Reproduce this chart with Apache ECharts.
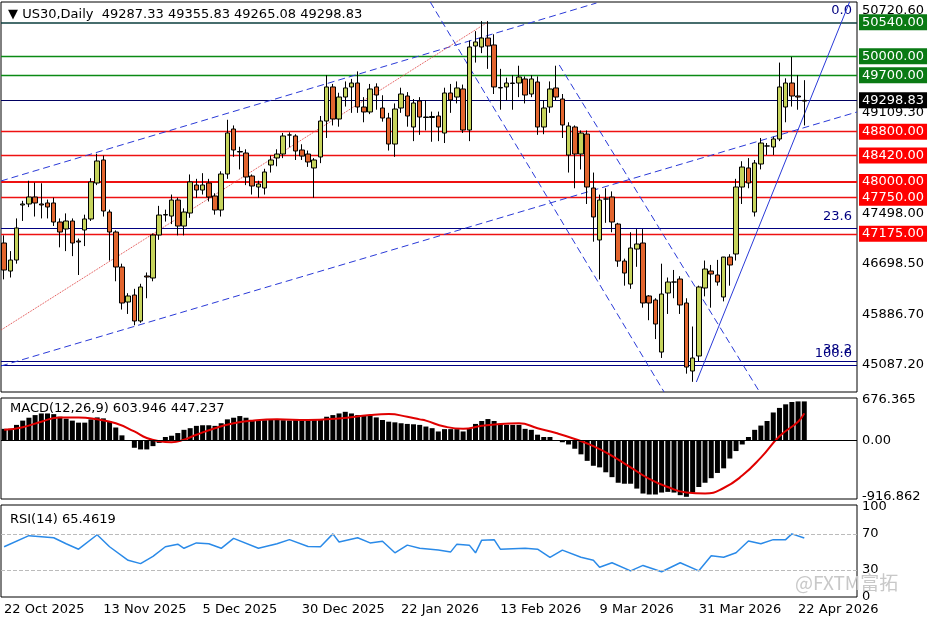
<!DOCTYPE html>
<html><head><meta charset="utf-8">
<script src="https://cdn.jsdelivr.net/npm/echarts@6/dist/echarts.min.js"></script>
<style>html,body{margin:0;padding:0;background:#fff}#c{width:936px;height:624px}</style>
</head><body><div id="c"></div>
<script>
const opens=[47029,46583,46758,47634,47650,47761,47650,47666,47666,47363,47252,47379,47061,47236,47411,47984,48350,47522,47204,46647,46090,46201,45788,46504,46472,47156,47474,47458,47713,47299,47506,47952,47872,47984,47777,47554,48127,48843,48477,48461,48095,47920,47904,48270,48382,48445,48748,48732,48509,48445,48223,48398,48970,49512,49002,49352,49512,49575,49193,49114,49512,49177,49018,48604,49177,49368,48875,49289,49034,49026,49050,48779,49416,49352,49480,48827,50164,50148,50291,50180,49496,49512,49575,49575,49639,49400,49591,48875,49193,49496,49320,48429,48875,48445,48763,47904,47077,47729,47761,47331,46742,46376,46933,47029,46186,46122,45294,46233,46408,46456,46074,44992,45231,46313,46583,46520,46170,46806,46854,47920,48223,47522,48286,48573,48557,48684,49193,49575,49368,49287.33];
const closes=[46599,46758,47268,47650,47761,47666,47634,47602,47363,47204,47379,47029,47045,47411,48000,48334,47538,47204,46647,46074,46186,45788,46329,46488,47156,47474,47482,47713,47299,47522,48000,47872,47952,47761,47554,48127,48780,48509,48485,48079,47936,47968,48159,48350,48445,48732,48748,48493,48413,48318,48350,48970,49512,49002,49352,49496,49575,49193,49114,49480,49384,49018,48604,49161,49400,49050,49257,49034,49026,49042,48875,49416,49305,49496,48827,50148,50228,50291,50164,49512,49504,49575,49567,49671,49384,49639,48875,49177,49480,49352,48907,48891,48445,48779,47920,47443,47713,47729,47363,46742,46551,46949,47013,46074,46074,45740,46217,46408,46408,46043,45055,45199,46329,46615,46535,46408,46806,46679,47920,48238,47984,48302,48620,48573,48684,49512,49575,49368,49352,49298.83];
const lows=[46450,46480,46700,47380,47600,47450,47420,47420,47300,46960,46900,46820,46520,46980,47380,47950,47450,46750,46420,45970,45900,45720,45760,46150,46420,47080,47370,47330,47150,47150,47430,47750,47800,47690,47480,47450,48050,48400,48200,47950,47800,47750,47800,48150,48250,48380,48550,48350,48350,48240,47750,48300,48700,48900,48880,49200,49100,49100,48950,49080,49150,48960,48500,48400,49100,48880,48650,48750,48820,48640,48650,48620,49100,49250,48780,48650,49900,50050,49800,49400,49150,49300,49150,49350,49250,49350,48750,48760,49100,49300,48700,48150,47900,48200,47650,47050,46450,47350,47200,46650,46350,46300,46650,46000,45800,45500,45200,45900,46150,45900,44950,44820,45150,46180,46000,46350,46100,46350,46750,47650,47900,47450,48200,48430,48430,48650,48950,49200,49150,48900];
const highs=[47150,46900,47420,47700,48020,47990,47980,47720,47750,47420,47500,47420,47100,47480,48060,48450,48420,47560,47230,46700,46230,46300,46380,46560,47180,47620,47560,47800,47750,47580,48120,48050,48140,48050,47820,48170,48990,48900,48560,48520,48120,48020,48210,48420,48520,48780,48790,48760,48600,48500,48380,49050,49700,49560,49420,49600,49640,49760,49350,49560,49570,49380,49100,49250,49500,49430,49320,49350,49300,49120,49120,49500,49560,49600,49550,50250,50400,50560,50560,50350,49800,49660,49700,49850,49680,49700,49680,49300,49600,49850,49400,48950,48900,48820,48820,48150,47800,47900,47850,47350,46780,47200,47250,47250,46200,46150,46700,46480,46600,46500,46150,45700,46350,46750,46680,46760,46800,46850,48050,48330,48380,48350,48700,48620,48720,49900,49650,49990,49700,49620];
const macdHist=[193,193,258,328,376,419,446,446,435,392,360,328,295,295,349,381,365,311,215,86,5,-118,-145,-145,-91,-38,59,80,124,177,204,242,252,252,242,285,349,376,403,376,338,330,335,338,340,335,330,338,340,335,338,345,392,419,446,473,446,419,408,408,381,338,311,300,285,274,268,258,231,204,150,188,188,188,150,204,274,322,354,322,274,258,258,258,193,177,97,59,59,0,-27,-64,-134,-226,-333,-414,-440,-521,-601,-693,-709,-709,-789,-870,-886,-886,-854,-843,-854,-897,-924,-854,-763,-693,-618,-532,-456,-295,-172,-64,59,177,247,322,462,537,596,634,644,644];
// signal line read at selected bars: [bar number (1-based), value]
const macdSignalPts=[[1,177],[4,220],[7,311],[10,381],[13,381],[16,349],[19,285],[22,150],[24,43],[26,-11],[28,-27],[30,16],[32,97],[35,204],[38,285],[41,328],[45,349],[50,338],[55,365],[60,419],[63,435],[66,392],[68,349],[69,328],[72,231],[75,193],[78,242],[81,274],[84,285],[87,204],[90,124],[93,27],[96,-91],[99,-252],[102,-440],[105,-628],[108,-763],[111,-854],[114,-870],[117,-779],[120,-575],[123,-279],[126,70],[129,311],[130,447]];
const rsiPts=[[1,55.7],[5,68],[9,65.7],[11,59],[13,53],[16,69],[18,55.7],[21,40.7],[23,37],[25,45],[27,55.7],[29,58.6],[30,54],[32,60],[34,59],[36,54],[38,65],[42,54],[45,59],[47,63.6],[50,56],[52,55.7],[54,70],[55,61],[58,65.7],[60,60],[62,61.8],[64,49],[66,57.5],[68,54],[71,52],[73,50],[74,58.6],[76,57.5],[77,49],[78,63],[80,63.6],[81,53],[85,54],[87,53],[89,44],[91,52],[94,44],[96,40.7],[97,33],[99,38],[102,29],[104,35],[107,28],[110,38],[113,29],[115,45.7],[117,44],[119,49],[121,62],[123,59],[125,63.6],[127,63.6],[128,70],[130,65.46]];
const tickIdx=[0,16,32,48,64,80,96,112,128];
const tickLabels=['22 Oct 2025','13 Nov 2025','5 Dec 2025','30 Dec 2025','22 Jan 2026','13 Feb 2026','9 Mar 2026','31 Mar 2026','22 Apr 2026'];
const priceTicks=[50720.60,49109.30,47498.00,46698.50,45886.70,45087.20];
const greenLevels=[50000,49700];
const redLevels=[48800,48420,48000,47750,47175];
const topLevel=50540;
const lastPrice=49298.83;
// trend lines: [[barIndex0, price],[barIndex1, price]]
const trendChannelUp=[[-0.5,48016],[95.5,50848]];
const trendChannelLow=[[-0.5,45072],[137.5,49114]];
const trendRedDotted=[[-0.5,45644],[78,50546]];
const trendDownA=[[68.7,50864],[106.4,44658]];
const trendDownB=[[89.5,49862],[121.8,44658]];
const trendSolidUp=[[111.6,44817],[136.3,50864]];
const fib={'0.0':50720.6,'23.6':47258,'38.2':45150,'100.0':45087};

const NSLOT=138;
const PMIN=44658,PMAX=50864;
const cats=[];for(let i=0;i<NSLOT;i++)cats.push(String(i));
const ohlc=opens.map((o,i)=>[o,closes[i],lows[i],highs[i]]);
const sig=new Array(NSLOT).fill(null);macdSignalPts.forEach(([b,v])=>sig[b-1]=v);
const rsi=new Array(NSLOT).fill(null);rsiPts.forEach(([b,v])=>rsi[b-1]=v);
const FONT='DejaVu Sans';
const HID={color:'rgba(0,0,0,0)',width:0};
const boxLbl=(txt,bg,fg)=>({show:true,position:'end',formatter:txt,backgroundColor:bg,color:fg||'#fff',padding:[2,3,1,3],fontSize:13,fontFamily:FONT,distance:2});
const plainLbl=(txt)=>({show:true,position:'end',formatter:txt,color:'#000',fontSize:13,fontFamily:FONT,distance:5});
const ml=[];
priceTicks.forEach(v=>ml.push({yAxis:v,lineStyle:HID,label:plainLbl(v.toFixed(2))}));
ml.push({yAxis:topLevel,lineStyle:{color:'#0a3c3c',width:1.5,type:'solid'},label:boxLbl('50540.00','#0a7a14')});
greenLevels.forEach(v=>ml.push({yAxis:v,lineStyle:{color:'#0a8a14',width:1.3,type:'solid'},label:boxLbl(v.toFixed(2),'#0a7a14')}));
ml.push({yAxis:lastPrice,lineStyle:{color:'#000060',width:1,type:'solid'},label:boxLbl(lastPrice.toFixed(2),'#000')});
redLevels.forEach(v=>ml.push({yAxis:v,lineStyle:{color:'#ee1111',width:v===48000?2:1.3,type:'solid'},label:boxLbl(v.toFixed(2),'#f00')}));
ml.push({yAxis:fib['23.6'],lineStyle:{color:'#000080',width:1,type:'solid'},label:{show:true,position:'insideEndTop',formatter:'23.6',color:'#000080',fontSize:13,fontFamily:FONT}});
ml.push({yAxis:fib['100.0'],lineStyle:{color:'#000080',width:1,type:'solid'},label:{show:true,position:'insideEndTop',formatter:'100.0',color:'#000080',fontSize:13,fontFamily:FONT}});
ml.push({yAxis:fib['38.2'],lineStyle:{color:'#000080',width:1,type:'solid'},label:{show:true,position:'insideEndTop',formatter:'38.2',color:'#000080',fontSize:13,fontFamily:FONT}});
ml.push({yAxis:fib['0.0'],lineStyle:HID,label:{show:true,position:'insideEnd',formatter:'0.0',color:'#000080',fontSize:13,fontFamily:FONT}});

const tl=(d,color,type,w)=>({type:'line',xAxisIndex:3,yAxisIndex:3,data:d,symbol:'none',silent:true,clip:true,lineStyle:{color,type:type==='dashed'?[7,4]:type,width:w||1},z:3});
const chart=echarts.init(document.getElementById('c'));
chart.setOption({
  animation:false,backgroundColor:'#fff',
  textStyle:{fontFamily:FONT},
  title:[
    {text:'▼ US30,Daily  49287.33 49355.83 49265.08 49298.83',left:3,top:3,textStyle:{fontSize:13,fontWeight:'normal',color:'#000',fontFamily:FONT}},
    {text:'MACD(12,26,9) 603.946 447.237',left:5,top:397,textStyle:{fontSize:13,fontWeight:'normal',color:'#000',fontFamily:FONT}},
    {text:'RSI(14) 65.4619',left:5,top:508,textStyle:{fontSize:13,fontWeight:'normal',color:'#000',fontFamily:FONT}},
    {text:'@FXTM富拓',left:790,top:568,textStyle:{fontSize:19,fontWeight:'normal',color:'#c8c8c8',fontFamily:'Noto Sans CJK SC'}}
  ],
  grid:[
    {left:1,right:79,top:2,height:390,show:true,borderColor:'#000',borderWidth:1},
    {left:1,right:79,top:398,height:101,show:true,borderColor:'#000',borderWidth:1},
    {left:1,right:79,top:505,height:92,show:true,borderColor:'#000',borderWidth:1},
    {left:1,right:79,top:2,height:390,show:false}
  ],
  xAxis:[
    {type:'category',gridIndex:0,data:cats,boundaryGap:true,axisLine:{show:false},axisTick:{show:false},axisLabel:{show:false}},
    {type:'category',gridIndex:1,data:cats,boundaryGap:true,axisLine:{show:false},axisTick:{show:false},axisLabel:{show:false}},
    {type:'category',gridIndex:2,data:cats,boundaryGap:true,axisLine:{show:false},
      axisTick:{show:false},
      axisLabel:{show:true,interval:0,align:'left',margin:6,fontSize:13,color:'#000',fontFamily:FONT,
        formatter:(v,i)=>{const k=tickIdx.indexOf(i);return k>=0?tickLabels[k]:'';}}},
    {type:'value',gridIndex:3,min:-0.5,max:NSLOT-0.5,show:false}
  ],
  yAxis:[
    {type:'value',gridIndex:0,min:PMIN,max:PMAX,position:'right',splitLine:{show:false},axisLine:{show:false},axisTick:{show:false},axisLabel:{show:false}},
    {type:'value',gridIndex:1,min:-960,max:700,position:'right',splitLine:{show:false},axisLine:{show:false},axisTick:{show:false},axisLabel:{show:false}},
    {type:'value',gridIndex:2,min:0,max:102,position:'right',splitLine:{show:false},axisLine:{show:false},axisTick:{show:false},axisLabel:{show:false}},
    {type:'value',gridIndex:3,min:PMIN,max:PMAX,show:false}
  ],
  series:[
    {type:'candlestick',xAxisIndex:0,yAxisIndex:0,data:ohlc,barWidth:5,z:5,
      itemStyle:{color:'#c6d45c',color0:'#e2652e',borderColor:'#000',borderColor0:'#000',borderWidth:1},
      markLine:{symbol:'none',silent:true,animation:false,data:ml,z:2}},
    tl(trendChannelUp,'#2a3ad8','dashed'),
    tl(trendChannelLow,'#2a3ad8','dashed'),
    tl(trendRedDotted,'#e04040','dotted'),
    tl(trendDownA,'#2a3ad8','dashed'),
    tl(trendDownB,'#2a3ad8','dashed'),
    tl(trendSolidUp,'#2a3ad8','solid'),
    {type:'bar',xAxisIndex:1,yAxisIndex:1,data:macdHist,barWidth:5,itemStyle:{color:'#000'},
      markLine:{symbol:'none',silent:true,data:[
        {yAxis:0,lineStyle:{color:'#000',width:1,type:'solid'},label:boxLbl('0.00','#fff','#000')},
        {yAxis:676.365,lineStyle:HID,label:plainLbl('676.365')},
        {yAxis:-916.862,lineStyle:HID,label:plainLbl('-916.862')}]}},
    {type:'line',xAxisIndex:1,yAxisIndex:1,data:sig,connectNulls:true,smooth:true,symbol:'none',lineStyle:{color:'#e00000',width:2},z:4},
    {type:'line',xAxisIndex:2,yAxisIndex:2,data:rsi,connectNulls:true,symbol:'none',lineStyle:{color:'#2a8ae8',width:1.5},
      markLine:{symbol:'none',silent:true,data:[
        {yAxis:100,lineStyle:HID,label:plainLbl('100')},
        {yAxis:70,lineStyle:{color:'#bbb',type:'dashed',width:1},label:plainLbl('70')},
        {yAxis:30,lineStyle:{color:'#bbb',type:'dashed',width:1},label:plainLbl('30')},
        {yAxis:0,lineStyle:HID,label:plainLbl('0')}]}}
  ]
});
</script></body></html>
